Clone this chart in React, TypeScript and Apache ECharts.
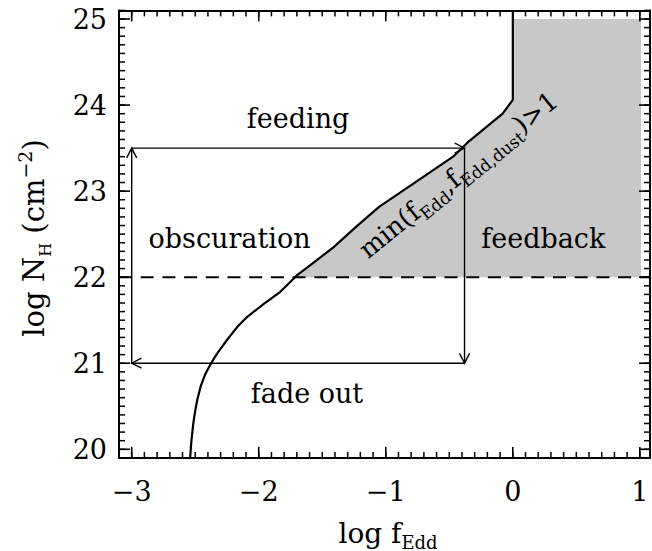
import React, { useEffect, useRef } from "react";
import * as echarts from "echarts";

// Axis ranges and tick labels
const X_MIN = -3.1;
const X_MAX = 1.08;
const Y_MIN = 19.9;
const Y_MAX = 25.1;
const xMajorTicks = [-3, -2, -1, 0, 1];
const yMajorTicks = [20, 21, 22, 23, 24, 25];

// Critical curve (log f_Edd vs log N_H)
const curveX = [-2.54, -2.53, -2.515, -2.5, -2.48, -2.455, -2.425, -2.39, -2.355, -2.31, -2.25, -2.17, -2.09, -1.96, -1.83, -1.7, -1.55, -1.41, -1.23, -1.05, -0.78, -0.47, -0.36, -0.08, 0, 0];
const curveY = [19.9, 20.1, 20.3, 20.45, 20.6, 20.74, 20.86, 20.96, 21.05, 21.15, 21.27, 21.42, 21.54, 21.69, 21.83, 22.02, 22.19, 22.35, 22.59, 22.82, 23.09, 23.4, 23.56, 23.9, 24.06, 25.1];

// Shaded "feedback" (forbidden) region
const shadeX = [-1.7, -1.55, -1.41, -1.23, -1.05, -0.78, -0.47, -0.36, -0.08, 0, 0, 1.01, 1.01];
const shadeY = [22, 22.19, 22.35, 22.59, 22.82, 23.09, 23.4, 23.56, 23.9, 24.06, 25, 25, 22];

// Dashed line at log N_H = 22
const dashX = [-3.1, 1.08];
const dashY = [22, 22];

// Evolution cycle arrows
const arrowStartX = [-3, -0.38, -0.38, -3];
const arrowStartY = [23.5, 23.5, 21, 21];
const arrowEndX = [-0.38, -0.38, -3, -3];
const arrowEndY = [23.5, 21, 21, 23.5];

// Annotations
const labelTexts = ["feeding", "obscuration", "feedback", "fade out", "min(f{s|Edd},f{s|Edd,dust})>1"];
const labelX = [-1.69, -2.23, 0.24, -1.62, -0.43];
const labelY = [23.84, 22.45, 22.45, 20.65, 23.19];
const labelRotate = [0, 0, 0, 0, 39];

const FONT = "DejaVu Serif";

function minorTicks(lo: number, hi: number): number[] {
  const out: number[] = [];
  for (let i = Math.ceil(lo * 10 - 1e-9); i <= Math.floor(hi * 10 + 1e-9); i++) out.push(i / 10);
  return out;
}

export default function App() {
  const ref = useRef<HTMLDivElement>(null);
  useEffect(() => {
    document.body.style.margin = "0";
    const chart = echarts.init(ref.current!, null, { renderer: "svg" });
    const xMinor = minorTicks(X_MIN, X_MAX);
    const yMinor = minorTicks(Y_MIN, Y_MAX);
    const axLine = { onZero: false, lineStyle: { color: "#000", width: 2 } };
    const labelStyle = { color: "#000", fontSize: 27, fontFamily: FONT };
    const fmt = (v: number) => String(v).replace("-", "\u2212");
    const xBase = { type: "value", min: X_MIN, max: X_MAX, splitLine: { show: false }, axisTick: { show: false } };
    const yBase = { type: "value", min: Y_MIN, max: Y_MAX, splitLine: { show: false }, axisTick: { show: false } };

    const titles: any[] = [
      {
        type: "text", x: 388, y: 533,
        style: {
          text: "log f{s|Edd}", fontSize: 28, fontFamily: FONT, fill: "#000",
          align: "center", verticalAlign: "middle", lineHeight: 36,
          rich: { s: { fontSize: 18, fontFamily: FONT, fill: "#000", verticalAlign: "bottom", lineHeight: 18 } },
        },
      },
      {
        type: "text", x: 34, y: 238, rotation: Math.PI / 2,
        style: {
          text: "log N{s|H} (cm{p|\u22122})", fontSize: 29, fontFamily: FONT, fill: "#000",
          align: "center", verticalAlign: "middle", lineHeight: 38,
          rich: {
            s: { fontSize: 16, fontFamily: FONT, fill: "#000", verticalAlign: "bottom", lineHeight: 19 },
            p: { fontSize: 19, fontFamily: FONT, fill: "#000", verticalAlign: "top", lineHeight: 19 },
          },
        },
      },
    ];

    const option: any = {
      animation: false,
      backgroundColor: "#fff",
      grid: { left: 119, right: 2, top: 10.4, bottom: 93.1, containLabel: false },
      xAxis: [
        { ...xBase, position: "bottom", axisLine: axLine,
          axisLabel: { ...labelStyle, customValues: xMajorTicks, formatter: fmt, margin: 20 } },
        { ...xBase, position: "top", axisLine: axLine, axisLabel: { show: false } },
      ],
      yAxis: [
        { ...yBase, position: "left", axisLine: axLine,
          axisLabel: { ...labelStyle, customValues: yMajorTicks, formatter: fmt, margin: 12 } },
        { ...yBase, position: "right", axisLine: axLine, axisLabel: { show: false } },
      ],
      graphic: titles,
      series: [
        {
          type: "custom", name: "shade", z: 1, silent: true,
          data: [[0, 22]],
          renderItem: (_p: any, api: any) => {
            const pts = shadeX.map((x, i) => api.coord([x, shadeY[i]]));
            return { type: "polygon", shape: { points: pts }, style: { fill: "#c8c8c8", stroke: "none" } };
          },
        },
        {
          type: "line", name: "dash", z: 3, silent: true, showSymbol: false, symbol: "none",
          data: dashX.map((x, i) => [x, dashY[i]]),
          lineStyle: { color: "#000", width: 2, type: [13, 8.7] },
        },
        {
          type: "line", name: "curve", z: 4, silent: true, showSymbol: false, symbol: "none",
          data: curveX.map((x, i) => [x, curveY[i]]),
          lineStyle: { color: "#000", width: 2.2 },
        },
        {
          type: "custom", name: "arrows", z: 5, silent: true,
          dimensions: ["x1", "y1", "x2", "y2"],
          encode: { x: [0, 2], y: [1, 3] },
          data: arrowStartX.map((x, i) => [x, arrowStartY[i], arrowEndX[i], arrowEndY[i]]),
          renderItem: (_p: any, api: any) => {
            const a = api.coord([api.value(0), api.value(1)]);
            const b = api.coord([api.value(2), api.value(3)]);
            const ang = Math.atan2(b[1] - a[1], b[0] - a[0]);
            const L = 11, phi = (27 * Math.PI) / 180;
            const h1 = [b[0] - L * Math.cos(ang - phi), b[1] - L * Math.sin(ang - phi)];
            const h2 = [b[0] - L * Math.cos(ang + phi), b[1] - L * Math.sin(ang + phi)];
            return {
              type: "group",
              children: [
                { type: "line", shape: { x1: a[0], y1: a[1], x2: b[0], y2: b[1] }, style: { stroke: "#000", lineWidth: 1.4 } },
                { type: "polyline", shape: { points: [h1, b, h2] }, style: { stroke: "#000", lineWidth: 1.4, fill: null } },
              ],
            };
          },
        },
        {
          type: "scatter", name: "labels", z: 6, silent: true, symbolSize: 0,
          itemStyle: { opacity: 1 },
          data: labelTexts.map((t, i) => ({
            value: [labelX[i], labelY[i]],
            label: {
              show: true, position: "inside", formatter: t, rotate: labelRotate[i], opacity: 1,
              fontSize: i === 4 ? 26 : 27, fontFamily: FONT, color: "#000", lineHeight: 36,
              rich: { s: { fontSize: 17, fontFamily: FONT, color: "#000", verticalAlign: "bottom", lineHeight: 18 } },
            },
          })),
        },
      ],
    };
    chart.setOption(option);

    // Inward ticks on all four sides, positioned through the axis scales
    const px = (x: number, y: number) => chart.convertToPixel({ gridIndex: 0 }, [x, y]) as number[];
    const tickEls: any[] = [];
    const st = (w: number) => ({ stroke: "#000", lineWidth: w });
    const addX = (v: number, len: number, w: number) => {
      const b = px(v, Y_MIN), t = px(v, Y_MAX);
      tickEls.push({ type: "line", z: 100, shape: { x1: b[0], y1: b[1], x2: b[0], y2: b[1] - len }, style: st(w) });
      tickEls.push({ type: "line", z: 100, shape: { x1: t[0], y1: t[1], x2: t[0], y2: t[1] + len }, style: st(w) });
    };
    const addY = (v: number, len: number, w: number) => {
      const l = px(X_MIN, v), r = px(X_MAX, v);
      tickEls.push({ type: "line", z: 100, shape: { x1: l[0], y1: l[1], x2: l[0] + len, y2: l[1] }, style: st(w) });
      tickEls.push({ type: "line", z: 100, shape: { x1: r[0], y1: r[1], x2: r[0] - len, y2: r[1] }, style: st(w) });
    };
    xMinor.forEach((v) => addX(v, 6, 1.5));
    yMinor.forEach((v) => addY(v, 6, 1.5));
    xMajorTicks.forEach((v) => addX(v, 11, 1.6));
    yMajorTicks.forEach((v) => addY(v, 11, 1.6));
    chart.setOption({ graphic: [...titles, ...tickEls] }, { replaceMerge: ["graphic"] });

    return () => chart.dispose();
  }, []);
  return <div ref={ref} style={{ width: 652, height: 551 }} />;
}
